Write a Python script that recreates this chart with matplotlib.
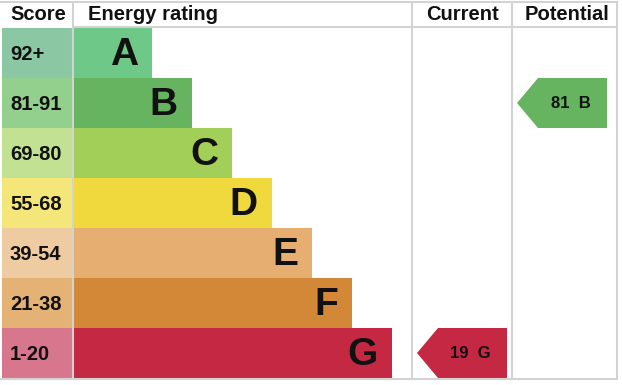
import matplotlib
matplotlib.use('Agg')
import matplotlib.pyplot as plt
from matplotlib.patches import Rectangle, Polygon

plt.rcParams['font.family'] = ['Liberation Sans', 'DejaVu Sans']

# chart data
bands = ['A', 'B', 'C', 'D', 'E', 'F', 'G']
scores = ['92+', '81-91', '69-80', '55-68', '39-54', '21-38', '1-20']
bar_colors = ['#6ec887', '#66b45f', '#a2cf57', '#efd93c', '#e6ae70', '#d38838', '#c42842']
score_colors = ['#8cc7a4', '#93d08e', '#c3e193', '#f5e67a', '#eecba0', '#e5b276', '#d8768e']
current_value, current_band = 19, 'G'
potential_value, potential_band = 81, 'B'

fig = plt.figure(figsize=(6.22, 3.85), dpi=100)
ax = fig.add_axes([0, 0, 1, 1])
ax.set_xlim(0, 622)
ax.set_ylim(385, 0)
ax.axis('off')

top = 28
row_h = 50
grid = '#d3d3d3'

# rows
for i, b in enumerate(bands):
    y0 = top + i * row_h
    ax.add_patch(Rectangle((2, y0), 71, row_h, color=score_colors[i], lw=0))
    right = 152 + i * 40
    ax.add_patch(Rectangle((73, y0), right - 73, row_h, color=bar_colors[i], lw=0))
    ax.text(10, y0 + row_h / 2 + 1, scores[i], fontsize=14.5, fontweight='bold',
            va='center', ha='left', color='#111111')
    ax.text(right - 14, y0 + row_h / 2 + 2, b, fontsize=28, fontweight='bold',
            va='center', ha='right', color='#111111')

# grid lines
ax.plot([0, 617], [2, 2], color=grid, lw=1.5)
ax.plot([73, 617], [27, 27], color=grid, lw=1.5)
ax.plot([0, 617], [378.5, 378.5], color=grid, lw=1.5)
for x in [73, 412, 512, 617]:
    ax.plot([x, x], [2, 379], color=grid, lw=1.5)

# headers
hdr = dict(fontsize=14.5, fontweight='bold', va='center', color='#111111')
ax.text(10, 15, 'Score', ha='left', **hdr)
ax.text(88, 15, 'Energy rating', ha='left', **hdr)
ax.text(462, 15, 'Current', ha='center', **hdr)
ax.text(567, 15, 'Potential', ha='center', **hdr)


def arrow(x_tip, x_right, value, band):
    i = bands.index(band)
    y0 = top + i * row_h
    y1 = y0 + row_h
    pts = [(x_tip, (y0 + y1) / 2), (x_tip + 21, y0), (x_right, y0),
           (x_right, y1), (x_tip + 21, y1)]
    ax.add_patch(Polygon(pts, closed=True, color=bar_colors[i], lw=0))
    ax.text((x_tip + 21 + x_right) / 2 - 2, (y0 + y1) / 2 + 1, '%d  %s' % (value, band),
            fontsize=12, fontweight='bold', ha='center', va='center', color='#111111')


arrow(417, 507, current_value, current_band)
arrow(517, 607, potential_value, potential_band)

fig.savefig('out.png', dpi=100)
